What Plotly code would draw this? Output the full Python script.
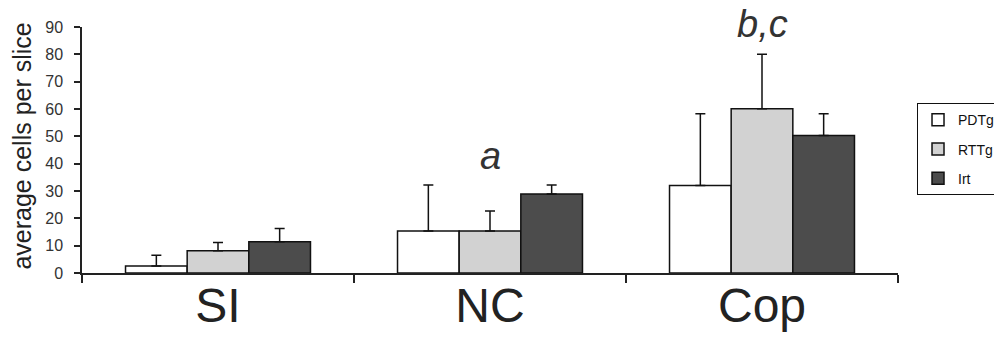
import plotly.graph_objects as go

categories = ["SI", "NC", "Cop"]
series_names = ["PDTg", "RTTg", "Irt"]
pdtg_mean = [2.6, 15.4, 32.0]
pdtg_err = [3.9, 16.8, 26.3]
rttg_mean = [8.1, 15.4, 60.1]
rttg_err = [3.1, 7.3, 19.9]
irt_mean = [11.4, 28.9, 50.3]
irt_err = [4.9, 3.3, 8.0]
sig_labels = ["", "a", "b,c"]
sig_y = [None, 42.8, 91.0]
y_ticks = [0, 10, 20, 30, 40, 50, 60, 70, 80, 90]
y_max = 90
y_title = "average cells per slice"

colors = ["#ffffff", "#d2d2d2", "#4c4c4c"]
means = [pdtg_mean, rttg_mean, irt_mean]
errs = [pdtg_err, rttg_err, irt_err]

fig = go.Figure()
for i, name in enumerate(series_names):
    fig.add_trace(go.Bar(
        x=categories, y=means[i], name=name,
        legendgroup=name,
        marker=dict(color=colors[i], line=dict(color="#111111", width=1.5)),
        error_y=dict(type="data", symmetric=False, array=errs[i],
                     arrayminus=[0] * len(categories),
                     color="#111111", thickness=1.5, width=5),
    ))

for c, lab, yv in zip(categories, sig_labels, sig_y):
    if lab:
        fig.add_annotation(x=c, y=yv / y_max, yref="y domain", text="<i>" + lab + "</i>",
                           showarrow=False,
                           font=dict(family="Liberation Sans, Arial", size=38, color="#333333"),
                           xanchor="center", yanchor="middle")

# y-axis title placed as rotated text to the left of the tick labels
fig.add_annotation(xref="paper", yref="paper", x=-0.0735, y=0.514, text=y_title,
                   textangle=-90, showarrow=False, xanchor="center", yanchor="middle",
                   font=dict(family="Liberation Sans, Arial", size=25, color="#222222"))

fig.update_layout(
    width=994, height=337,
    margin=dict(l=82, r=96, t=27, b=64, autoexpand=False),
    paper_bgcolor="white", plot_bgcolor="white",
    barmode="group", bargap=0.32, bargroupgap=0,
    font=dict(family="Liberation Sans, Arial", color="#222222"),
    showlegend=True,
    legend=dict(x=1.0233, y=0.69, xanchor="left", yanchor="top",
                bordercolor="#111111", borderwidth=1, bgcolor="white",
                font=dict(size=14, color="#111111"), tracegroupgap=8,
                itemwidth=30),
    xaxis=dict(range=[-0.5, 2.5], showline=True, linecolor="#222222", linewidth=1.5,
               ticks="outside", tickson="boundaries", ticklen=8, tickcolor="#222222",
               tickwidth=1.5, tickfont=dict(size=48, color="#222222"),
               ticklabelstandoff=-10,
               showgrid=False, zeroline=False),
    yaxis=dict(range=[0, y_max], tickvals=y_ticks, showline=True, linecolor="#222222",
               linewidth=1.5, ticks="outside", ticklen=6, tickcolor="#222222", tickwidth=1.5,
               tickfont=dict(size=16, color="#333333"), ticklabelstandoff=8,
               showgrid=False, zeroline=False, automargin=False),
)

fig.write_html("out.html", config={"displayModeBar": False},
               post_script="document.body.style.margin='0';")
